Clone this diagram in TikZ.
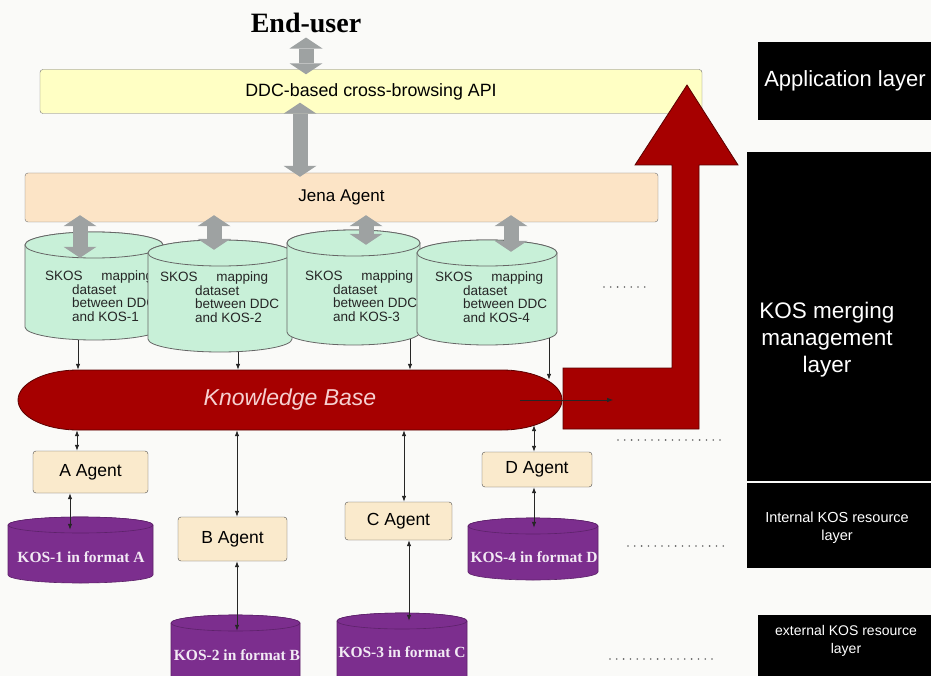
\documentclass[tikz,border=0pt]{standalone}
\usepackage{fontspec}
\setmainfont{Liberation Serif}
\setsansfont{Liberation Sans}
\usepackage{tikz}
\usetikzlibrary{shapes,arrows.meta,positioning,calc}

\definecolor{bgwhite}{RGB}{250,250,248}
\definecolor{apiyellow}{RGB}{255,255,196}
\definecolor{jenapeach}{RGB}{252,228,198}
\definecolor{mapgreen}{RGB}{200,240,216}
\definecolor{agentfill}{RGB}{250,234,204}
\definecolor{kosviolet}{RGB}{124,46,142}
\definecolor{kbred}{RGB}{166,0,0}
\definecolor{kbpink}{RGB}{246,208,208}
\definecolor{arrgray}{RGB}{158,162,162}

% database drum: name, left x, top y, width, height, end radius, style
\newcommand{\dbcyl}[7]{%
  \filldraw[#7] (#2,#3+#6) -- (#2,#3+#5-#6)
    arc[start angle=180, end angle=360, x radius=#4/2*1pt, y radius=#6*1pt]
    -- (#2+#4,#3+#6)
    arc[start angle=0, end angle=180, x radius=#4/2*1pt, y radius=#6*1pt] -- cycle;
  \filldraw[#7] (#2+#4/2,#3+#6) ellipse[x radius=#4/2*1pt, y radius=#6*1pt];
  \node[inner sep=0pt, minimum width=#4*1pt, minimum height=#5*1pt] (#1) at (#2+#4/2,#3+#5/2) {};
}

\begin{document}
\begin{tikzpicture}[x=1pt, y=-1pt,
    box/.style={draw=black!55, rounded corners=3pt, inner sep=0pt, font=\sffamily},
    apibox/.style={box, fill=apiyellow, font=\sffamily\fontsize{17.8}{20}\selectfont},
    jenabox/.style={box, fill=jenapeach, font=\sffamily\fontsize{17}{20}\selectfont},
    agentbox/.style={box, draw=black!70, fill=agentfill, font=\sffamily\fontsize{17.5}{20}\selectfont},
    mapdb/.style={draw=black!60, fill=mapgreen, line width=0.8pt},
    kosdb/.style={draw=kosviolet!75!black, fill=kosviolet, line width=0.6pt},
    maptext/.style={inner sep=0pt, align=left, text=black!85, font=\sffamily\fontsize{13.5}{13.5}\selectfont},
    kostext/.style={inner sep=0pt, text=white!90!kosviolet, font=\rmfamily\bfseries\fontsize{15.5}{18}\selectfont},
    layertext/.style={inner sep=0pt, text=white, align=center},
    bigarr/.style={draw=arrgray, line width=15pt, {Triangle[length=11pt,width=33pt,line width=0pt]}-{Triangle[length=11pt,width=33pt,line width=0pt]}},
    thinarr/.style={draw=black!85, line width=0.8pt, -{Latex[length=6pt,width=4.5pt]}},
    bothway/.style={thinarr, {Latex[length=6pt,width=4.5pt]}-{Latex[length=6pt,width=4.5pt]}},
    dotrow/.style={draw=black!60, line width=1.8pt, line cap=round, dash pattern=on 0pt off 6.8pt}
  ]
  % Background
  \fill[bgwhite] (0,0) rectangle (931,676);
  \useasboundingbox (0,0) rectangle (931,676);

  % Application side
  \node[anchor=base, inner sep=0pt, font=\rmfamily\bfseries\fontsize{28}{30}\selectfont] (user) at (306,33) {End-user};
  \node[apibox, minimum width=662pt, minimum height=44pt] (api) at (371,91.5) {DDC-based cross-browsing API};
  \node[jenabox, minimum width=633pt, minimum height=49pt] (jena) at (341.5,197.5) {Jena Agent};

  % Big red arrow up to the API
  \fill[kbred, draw=kbred!55!black, line width=0.8pt] (563,429) -- (699,429) -- (699,165) -- (738,165) -- (687,85)
    -- (635,165) -- (672,165) -- (672,368) -- (563,368) -- cycle;

  % SKOS mapping datasets
  \dbcyl{m1}{25}{232}{138}{108}{13}{mapdb}
  \node[maptext, anchor=north west] (t1) at (45,271) {\makebox[108pt][s]{SKOS mapping}\\\hspace*{27pt}dataset\\\hspace*{27pt}between DDC\\\hspace*{27pt}and KOS-1};
  \dbcyl{m2}{148}{240}{144}{112}{13}{mapdb}
  \node[maptext, anchor=north west] (t2) at (160,272) {\makebox[108pt][s]{SKOS mapping}\\\hspace*{35pt}dataset\\\hspace*{35pt}between DDC\\\hspace*{35pt}and KOS-2};
  \dbcyl{m3}{287}{230}{133}{115}{13}{mapdb}
  \node[maptext, anchor=north west] (t3) at (305,271) {\makebox[108pt][s]{SKOS mapping}\\\hspace*{28pt}dataset\\\hspace*{28pt}between DDC\\\hspace*{28pt}and KOS-3};
  \dbcyl{m4}{417}{240}{140}{105}{13}{mapdb}
  \node[maptext, anchor=north west] (t4) at (435,272) {\makebox[108pt][s]{SKOS mapping}\\\hspace*{28pt}dataset\\\hspace*{28pt}between DDC\\\hspace*{28pt}and KOS-4};

  % Gray double arrows
  \draw[bigarr] ([yshift=-4pt]user.south) -- ([yshift=-5pt]api.north -| user.south);
  \draw[bigarr] ([xshift=-6pt,yshift=11pt]user.south |- api.south) -- ([xshift=-6pt,yshift=-4pt]user.south |- jena.north);
  \draw[bigarr] ([xshift=-14pt,yshift=7pt]m1.north |- jena.south) -- ([xshift=-14pt,yshift=-26pt]m1.north);
  \draw[bigarr] ([xshift=-6pt,yshift=7pt]m2.north |- jena.south) -- ([xshift=-6pt,yshift=-10pt]m2.north);
  \draw[bigarr] ([xshift=12.5pt,yshift=7pt]m3.north |- jena.south) -- ([xshift=12.5pt,yshift=-15pt]m3.north);
  \draw[bigarr] ([xshift=24pt,yshift=7pt]m4.north |- jena.south) -- ([xshift=24pt,yshift=-12pt]m4.north);

  % Knowledge base
  \fill[kbred, draw=kbred!55!black, line width=0.8pt] (78,370) -- (502,370)
    arc[start angle=90, end angle=-90, x radius=60pt, y radius=30pt] -- (78,430)
    arc[start angle=270, end angle=90, x radius=60pt, y radius=30pt] -- cycle;
  \node[minimum width=544pt, minimum height=60pt, inner sep=0pt, text=kbpink,
    font=\sffamily\itshape\fontsize{23}{26}\selectfont] (kb) at (290,400) {Knowledge Base};
  \coordinate (kbout) at ([xshift=51pt]kb.east);
  \draw[thinarr] ([xshift=-42pt]kb.east) -- (kbout);

  % Datasets into the knowledge base
  \draw[thinarr] ([xshift=-16pt]m1.south) -- ([xshift=-16pt]m1.south |- kb.north);
  \draw[thinarr] ([xshift=18pt]m2.south) -- ([xshift=18pt]m2.south |- kb.north);
  \draw[thinarr] ([xshift=56.5pt,yshift=6pt]m3.south) -- ([xshift=56.5pt]m3.south |- kb.north);
  \draw[thinarr] ([xshift=62pt,yshift=7pt]m4.south) -- ([xshift=62pt,yshift=-10pt]m4.south |- kb.north);

  % Agents
  \node[agentbox, minimum width=115pt, minimum height=42pt] (aag) at (90.5,472) {A Agent};
  \node[agentbox, minimum width=109pt, minimum height=44pt] (bag) at (232.5,539) {B Agent};
  \node[agentbox, minimum width=107pt, minimum height=38pt] (cag) at (398.5,521) {C Agent};
  \node[agentbox, minimum width=110pt, minimum height=35pt] (dag) at (537,469.5) {D Agent};

  % KOS resources
  \dbcyl{k1}{8}{517}{145}{66}{8}{kosdb}
  \node[kostext, anchor=base] (kt1) at (81,562) {KOS-1 in format A};
  \dbcyl{k2}{171}{615}{129}{80}{8}{kosdb}
  \node[kostext, anchor=base] (kt2) at (237,660) {KOS-2 in format B};
  \dbcyl{k3}{337}{613}{130}{82}{8}{kosdb}
  \node[kostext, anchor=base] (kt3) at (402,657) {KOS-3 in format C};
  \dbcyl{k4}{468}{518}{130}{62}{8}{kosdb}
  \node[kostext, anchor=base] (kt4) at (534,562) {KOS-4 in format D};

  % Agent links
  \draw[bothway] ([xshift=-13.5pt]aag.north |- kb.south) -- ([xshift=-13.5pt]aag.north);
  \draw[bothway] ([xshift=-20.5pt]aag.south) -- ([xshift=-20.5pt,yshift=-13pt]aag.south |- k1.north);
  \draw[bothway] ([xshift=4.5pt]bag.north |- kb.south) -- ([xshift=4.5pt]bag.north);
  \draw[bothway] ([xshift=4.5pt]bag.south) -- ([xshift=4.5pt,yshift=-16pt]bag.south |- k2.north);
  \draw[bothway] ([xshift=5.5pt]cag.north |- kb.south) -- ([xshift=5.5pt]cag.north);
  \draw[bothway] ([xshift=10.5pt]cag.south) -- ([xshift=10.5pt,yshift=-8pt]cag.south |- k3.north);
  \draw[bothway] ([xshift=-3pt,yshift=5pt]dag.north |- kb.south) -- ([xshift=-3pt]dag.north);
  \draw[bothway] ([xshift=-3pt]dag.south) -- ([xshift=-3pt,yshift=-10pt]dag.south |- k4.north);

  % Dots
  \draw[dotrow] (604,287) -- (646,287);
  \draw[dotrow] (618,440) -- (720,440);
  \draw[dotrow] (628,546) -- (728,546);
  \draw[dotrow] (610,659) -- (712,659);

  % Layer labels
  \fill[black] (758,42) rectangle (931,120);
  \fill[black] (747,152) rectangle (931,481);
  \fill[black] (747,483) rectangle (931,568);
  \fill[black] (758,615) rectangle (931,680);
  \node[layertext, font=\sffamily\fontsize{22}{26}\selectfont] (applayer) at (845,81) {Application layer};
  \node[layertext, font=\sffamily\fontsize{22.5}{27}\selectfont] (mergelayer) at (827,340) {KOS merging\\management\\layer};
  \node[layertext, font=\sffamily\fontsize{14.5}{18}\selectfont] (intlayer) at (837,528) {Internal KOS resource\\layer};
  \node[layertext, font=\sffamily\fontsize{14}{18}\selectfont] (extlayer) at (846,641) {external KOS resource\\layer};
\end{tikzpicture}
\end{document}
